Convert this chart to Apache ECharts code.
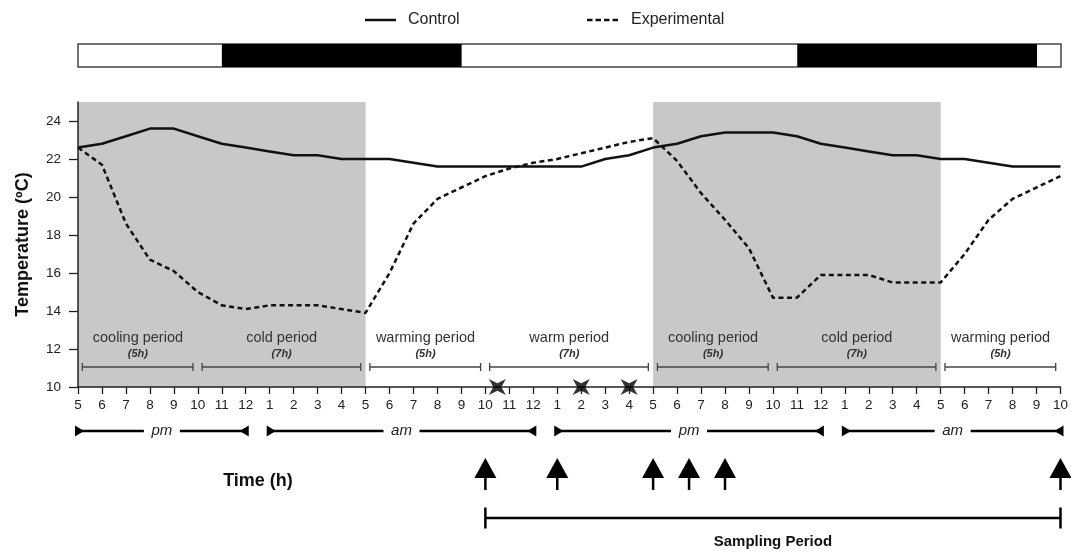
<!DOCTYPE html>
<html>
<head>
<meta charset="utf-8">
<script src="https://cdn.jsdelivr.net/npm/echarts@6/dist/echarts.min.js"></script>
<style>html,body{margin:0;padding:0;background:#fff}#c{width:1071px;height:554px}</style>
</head>
<body>
<div id="c"></div>
<script>
// ---- data ----
const timeLabels = ['5','6','7','8','9','10','11','12','1','2','3','4','5','6','7','8','9','10','11','12','1','2','3','4','5','6','7','8','9','10','11','12','1','2','3','4','5','6','7','8','9','10'];
const control = [22.6,22.8,23.2,23.6,23.6,23.2,22.8,22.6,22.4,22.2,22.2,22.0,22.0,22.0,21.8,21.6,21.6,21.6,21.6,21.6,21.6,21.6,22.0,22.2,22.6,22.8,23.2,23.4,23.4,23.4,23.2,22.8,22.6,22.4,22.2,22.2,22.0,22.0,21.8,21.6,21.6,21.6];
const experimental = [22.6,21.7,18.6,16.7,16.1,15.0,14.3,14.1,14.3,14.3,14.3,14.1,13.9,16.0,18.6,19.9,20.5,21.1,21.5,21.8,22.0,22.3,22.6,22.9,23.1,21.9,20.2,18.8,17.3,14.7,14.7,15.9,15.9,15.9,15.5,15.5,15.5,17.0,18.8,19.9,20.5,21.1];
const yTicks = [10,12,14,16,18,20,22,24];
const shadeStart = [0,24];
const shadeEnd = [12,36];
const darkStart = [6,30];
const darkEnd = [16,40];
const periodNames = ['cooling period','cold period','warming period','warm period','cooling period','cold period','warming period'];
const periodDurations = ['(5h)','(7h)','(5h)','(7h)','(5h)','(7h)','(5h)'];
const periodStart = [0,5,12,17,24,29,36];
const periodEnd = [5,12,17,24,29,36,41];
const ampmLabels = ['pm','am','pm','am'];
const ampmStart = [0,8,20,32];
const ampmEnd = [7,19,31,41];
const starHours = [17.5,21,23];
const arrowHours = [17,20,24,25.5,27,41];
const samplingStart = 17;
const samplingEnd = 41;

const FONT = '"Liberation Sans", Arial, Helvetica, sans-serif';
const chart = echarts.init(document.getElementById('c'));

function baseY(api){ return api.coord([0,10])[1]; }

const SOLID_ICON = 'path://M0,0 L31,0 L31,2.5 L0,2.5 Z';
const DASH_ICON = 'path://M0,0 L5.5,0 L5.5,2.5 L0,2.5 Z M8.5,0 L14,0 L14,2.5 L8.5,2.5 Z M17,0 L22.5,0 L22.5,2.5 L17,2.5 Z M25.5,0 L31,0 L31,2.5 L25.5,2.5 Z';

const option = {
  animation: false,
  backgroundColor: '#fff',
  grid: [
    {left:78, right:10, top:102, bottom:167},
    {left:78, right:10, top:44, height:23}
  ],
  xAxis: [
    {type:'value', gridIndex:0, min:0, max:41, interval:1, z:5,
     axisLine:{show:true, lineStyle:{color:'#222', width:1.5}},
     axisTick:{show:true, length:7, lineStyle:{color:'#222', width:1.3}},
     axisLabel:{formatter:v => (timeLabels[v] !== undefined ? timeLabels[v] : ''), margin:11, fontSize:13.5, color:'#222', fontFamily:FONT},
     splitLine:{show:false}},
    {type:'value', gridIndex:1, min:0, max:41, show:false}
  ],
  yAxis: [
    {type:'value', gridIndex:0, min:10, max:25, z:5,
     axisLine:{show:true, lineStyle:{color:'#222', width:1.5}},
     axisTick:{show:true, length:9, customValues:yTicks, lineStyle:{color:'#222', width:1.3}},
     axisLabel:{customValues:yTicks, margin:17, fontSize:13.5, color:'#222', fontFamily:FONT},
     splitLine:{show:false},
     name:'Temperature (ºC)', nameLocation:'middle', nameGap:46,
     nameTextStyle:{fontSize:18, fontWeight:'bold', color:'#111', fontFamily:FONT}},
    {type:'value', gridIndex:1, min:0, max:1, show:false}
  ],
  legend: [
    {data:[{name:'Control', icon:SOLID_ICON}], left:365, top:12, padding:0, itemWidth:31, itemHeight:2.5,
     itemStyle:{color:'#111', borderWidth:0},
     textStyle:{fontSize:16, color:'#222', fontFamily:FONT, padding:[0,0,0,7]}},
    {data:[{name:'Experimental', icon:DASH_ICON}], left:587, top:12, padding:0, itemWidth:31, itemHeight:2.5,
     itemStyle:{color:'#111', borderWidth:0},
     textStyle:{fontSize:16, color:'#222', fontFamily:FONT, padding:[0,0,0,8]}}
  ],
  graphic: [
    {type:'text', x:258, y:481, z:10,
     style:{text:'Time (h)', fontSize:18, fontWeight:'bold', fontFamily:FONT, fill:'#111', align:'center', verticalAlign:'middle'}}
  ],
  series: [
    // shading
    {type:'custom', xAxisIndex:0, yAxisIndex:0, z:1, silent:true,
     data: shadeStart.map((s,i)=>[s, shadeEnd[i]]),
     renderItem:(params, api)=>{
       const p0 = api.coord([api.value(0), 25]);
       const p1 = api.coord([api.value(1), 10]);
       return {type:'rect', shape:{x:p0[0], y:p0[1], width:p1[0]-p0[0], height:p1[1]-p0[1]}, style:{fill:'#c8c8c8'}};
     }},
    // light / dark bar
    {type:'custom', xAxisIndex:1, yAxisIndex:1, z:2, silent:true,
     data: [[0,41,0]].concat(darkStart.map((s,i)=>[s, darkEnd[i], 1])),
     renderItem:(params, api)=>{
       const p0 = api.coord([api.value(0), 1]);
       const p1 = api.coord([api.value(1), 0]);
       const dark = api.value(2) === 1;
       return {type:'rect', shape:{x:p0[0], y:p0[1], width:p1[0]-p0[0], height:p1[1]-p0[1]},
               style: dark ? {fill:'#000'} : {fill:'#fff', stroke:'#444', lineWidth:1.5}};
     }},
    {name:'Control', type:'line', xAxisIndex:0, yAxisIndex:0, z:4,
     data: control.map((v,i)=>[i,v]), symbol:'none', showSymbol:false,
     lineStyle:{color:'#111', width:2.5}, itemStyle:{color:'#111'}},
    {name:'Experimental', type:'line', xAxisIndex:0, yAxisIndex:0, z:4,
     data: experimental.map((v,i)=>[i,v]), symbol:'none', showSymbol:false,
     lineStyle:{color:'#111', width:2.5, type:[5,3.5]}, itemStyle:{color:'#111'}},
    // period labels & brackets
    {type:'custom', xAxisIndex:0, yAxisIndex:0, z:6, silent:true, clip:false,
     data: periodStart.map((s,i)=>[s, periodEnd[i], i]),
     renderItem:(params, api)=>{
       const s = api.value(0), e = api.value(1), i = api.value(2);
       const ay = baseY(api);
       const x0 = api.coord([s+0.18,10])[0], x1 = api.coord([e-0.2,10])[0];
       const xm = api.coord([(s+e)/2,10])[0];
       const by = ay - 20;
       const st = {stroke:'#444', lineWidth:1.3};
       return {type:'group', children:[
         {type:'line', shape:{x1:x0,y1:by,x2:x1,y2:by}, style:st},
         {type:'line', shape:{x1:x0,y1:by-4,x2:x0,y2:by+4}, style:st},
         {type:'line', shape:{x1:x1,y1:by-4,x2:x1,y2:by+4}, style:st},
         {type:'text', x:xm, y:ay-49, style:{text:periodNames[i], fontSize:14.5, fontFamily:FONT, fill:'#333', align:'center', verticalAlign:'middle'}},
         {type:'text', x:xm, y:ay-33, style:{text:periodDurations[i], fontSize:11, fontStyle:'italic', fontWeight:'bold', fontFamily:FONT, fill:'#333', align:'center', verticalAlign:'middle'}}
       ]};
     }},
    // star marks on axis
    {type:'scatter', xAxisIndex:0, yAxisIndex:0, z:10, silent:true, clip:false,
     data: starHours.map(h=>[h,10]),
     symbol:'path://M0,0 L10,5.2 L20,0 L14.8,10 L20,20 L10,14.8 L0,20 L5.2,10 Z',
     symbolSize:[17,16], itemStyle:{color:'#000'}},
    // am / pm brackets
    {type:'custom', xAxisIndex:0, yAxisIndex:0, z:6, silent:true, clip:false,
     data: ampmStart.map((s,i)=>[s, ampmEnd[i], i]),
     renderItem:(params, api)=>{
       const s = api.value(0), e = api.value(1), i = api.value(2);
       const y = baseY(api) + 44;
       const x0 = api.coord([s,10])[0]-3, x1 = api.coord([e,10])[0]+3;
       const xm = (x0+x1)/2;
       const st = {stroke:'#000', lineWidth:2.5};
       return {type:'group', children:[
         {type:'line', shape:{x1:x0+4,y1:y,x2:xm-18,y2:y}, style:st},
         {type:'line', shape:{x1:xm+18,y1:y,x2:x1-4,y2:y}, style:st},
         {type:'polygon', shape:{points:[[x0,y-5.5],[x0,y+5.5],[x0+9,y]]}, style:{fill:'#000'}},
         {type:'polygon', shape:{points:[[x1,y-5.5],[x1,y+5.5],[x1-9,y]]}, style:{fill:'#000'}},
         {type:'text', x:xm, y:y, style:{text:ampmLabels[i], fontSize:15, fontStyle:'italic', fontFamily:FONT, fill:'#222', align:'center', verticalAlign:'middle'}}
       ]};
     }},
    // sampling arrows
    {type:'custom', xAxisIndex:0, yAxisIndex:0, z:6, silent:true, clip:false,
     data: arrowHours.map(h=>[h,10]),
     renderItem:(params, api)=>{
       const x = api.coord([api.value(0),10])[0];
       const ay = baseY(api);
       return {type:'group', children:[
         {type:'polygon', shape:{points:[[x,ay+71],[x-11,ay+91],[x+11,ay+91]]}, style:{fill:'#000'}},
         {type:'line', shape:{x1:x,y1:ay+90,x2:x,y2:ay+103}, style:{stroke:'#000', lineWidth:2.5}}
       ]};
     }},
    // sampling period
    {type:'custom', xAxisIndex:0, yAxisIndex:0, z:6, silent:true, clip:false,
     data: [[samplingStart, samplingEnd]],
     renderItem:(params, api)=>{
       const x0 = api.coord([api.value(0),10])[0], x1 = api.coord([api.value(1),10])[0];
       const ay = baseY(api);
       const y = ay + 131;
       const st = {stroke:'#000', lineWidth:2.5};
       return {type:'group', children:[
         {type:'line', shape:{x1:x0,y1:y,x2:x1,y2:y}, style:st},
         {type:'line', shape:{x1:x0,y1:y-10.5,x2:x0,y2:y+10.5}, style:st},
         {type:'line', shape:{x1:x1,y1:y-10.5,x2:x1,y2:y+10.5}, style:st},
         {type:'text', x:(x0+x1)/2, y:ay+155, style:{text:'Sampling Period', fontSize:15, fontWeight:'bold', fontFamily:FONT, fill:'#111', align:'center', verticalAlign:'middle'}}
       ]};
     }}
  ]
};
chart.setOption(option);
</script>
</body>
</html>
